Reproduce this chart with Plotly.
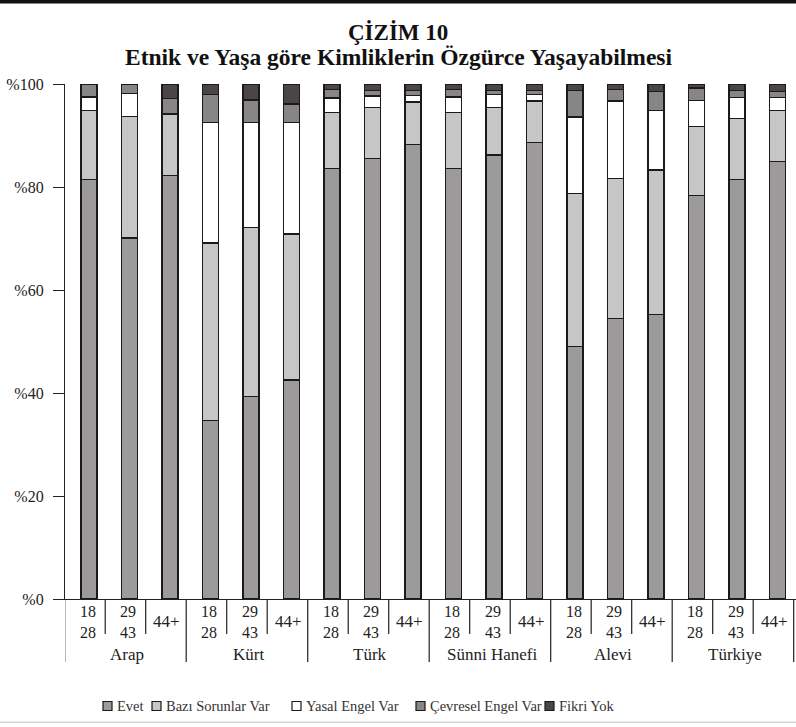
import plotly.graph_objects as go

groups = ["Arap", "Kürt", "Türk", "Sünni Hanefi", "Alevi", "Türkiye"]
ages = ["18<br>28", "29<br>43", "44+"]
series_names = ["Evet", "Bazı Sorunlar Var", "Yasal Engel Var", "Çevresel Engel Var", "Fikri Yok"]

evet =     [81.4, 70.1, 82.2, 34.6, 39.3, 42.5, 83.6, 85.6, 88.3, 83.6, 86.2, 88.7, 49.0, 54.4, 55.3, 78.3, 81.4, 85.0]
bazi =     [13.4, 23.6, 12.0, 34.5, 32.9, 28.4, 10.8,  9.8,  8.2, 10.8,  9.2,  8.0, 29.8, 27.2, 28.0, 13.4, 11.9,  9.8]
yasal =    [ 2.7,  4.4,  0.0, 23.4, 20.3, 21.6,  2.9,  2.3,  1.2,  3.1,  2.5,  1.2, 14.8, 15.1, 11.5,  5.1,  4.1,  2.6]
cevresel = [ 2.5,  1.9,  3.0,  5.4,  4.4,  3.6,  1.7,  1.1,  1.1,  1.5,  0.9,  0.9,  5.2,  2.3,  3.7,  2.4,  1.4,  1.1]
fikri =    [ 0.0,  0.0,  2.8,  2.1,  3.1,  3.9,  1.0,  1.2,  1.2,  1.0,  1.2,  1.2,  1.2,  1.0,  1.5,  0.8,  1.2,  1.5]

y_ticks = [0, 20, 40, 60, 80, 100]
y_tick_labels = ["%0", "%20", "%40", "%60", "%80", "%100"]

colors = ["#9c9a9a", "#c6c6c6", "#ffffff", "#878585", "#4b4545"]
series = [evet, bazi, yasal, cevresel, fikri]

W, H = 796, 727
L, R, T, B = 65, 0, 84, 128
PW = W - L - R
PH = H - T - B
FONT = "Liberation Serif"
TXT = "#222222"

def px(x):
    return (x - L) / PW

def py(y):
    return (H - B - y) / PH

n = len(groups) * len(ages)
xs = list(range(n))

fig = go.Figure()
for name, vals, col in zip(series_names, series, colors):
    fig.add_trace(go.Bar(
        x=xs, y=vals, name=name, width=0.4,
        marker=dict(color=col, line=dict(color="#1a1a1a", width=1.3)),
        showlegend=False,
    ))

shapes = []
annotations = []

# top thick rule and bottom light rule
shapes.append(dict(type="rect", xref="paper", yref="paper", x0=px(-2), x1=px(W + 2), y0=py(3.5), y1=py(-3),
                   fillcolor="#111111", line=dict(width=0), layer="above"))
shapes.append(dict(type="rect", xref="paper", yref="paper", x0=px(0), x1=px(W), y0=py(723), y1=py(721.5),
                   fillcolor="#d6d6d6", line=dict(width=0), layer="above"))

# category separators
for i in range(n + 1):
    xpos = i - 0.6
    is_group = (i % len(ages) == 0)
    y_end = py(662) if is_group else py(634)
    shapes.append(dict(type="line", xref="x", yref="paper", x0=xpos, x1=xpos, y0=0, y1=y_end,
                       line=dict(color="#222222", width=1.2)))

# age labels
for i in range(n):
    lab = ages[i % len(ages)]
    two = "<br>" in lab
    annotations.append(dict(x=i - (0.03 if two else 0.08), y=py(621.5), xref="x", yref="paper", text=lab,
                            showarrow=False, font=dict(family=FONT, size=16 if two else 17, color=TXT),
                            xanchor="center", yanchor="middle"))

# group labels
for g, name in enumerate(groups):
    center = g * len(ages) + 1 - 0.05
    annotations.append(dict(x=center, y=py(654), xref="x", yref="paper", text=name, showarrow=False,
                            font=dict(family=FONT, size=17, color=TXT), xanchor="center", yanchor="middle"))

# titles
annotations.append(dict(x=px(398), y=py(32), xref="paper", yref="paper", text="<b>ÇİZİM 10</b>", showarrow=False,
                        font=dict(family=FONT, size=23, color="#111111"), xanchor="center", yanchor="middle"))
annotations.append(dict(x=px(398), y=py(57.5), xref="paper", yref="paper",
                        text="<b>Etnik ve Yaşa göre Kimliklerin Özgürce Yaşayabilmesi</b>", showarrow=False,
                        font=dict(family=FONT, size=23.5, color="#111111"), xanchor="center", yanchor="middle"))

# legend (manual)
legend_sq_x = [103, 152, 292, 416, 545]
for name, col, sx in zip(series_names, colors, legend_sq_x):
    shapes.append(dict(type="rect", xref="paper", yref="paper", x0=px(sx), x1=px(sx + 9), y0=py(710.5), y1=py(701.5),
                       fillcolor=col, line=dict(color="#1a1a1a", width=1.2)))
    annotations.append(dict(x=px(sx + 11.5), y=py(706), xref="paper", yref="paper", text=name, showarrow=False,
                            font=dict(family=FONT, size=14.5, color="#333333"), xanchor="left", yanchor="middle"))

fig.update_layout(
    width=W, height=H,
    margin=dict(l=L, r=R, t=T, b=B),
    barmode="stack",
    paper_bgcolor="white", plot_bgcolor="white",
    shapes=shapes, annotations=annotations,
    showlegend=False,
    font=dict(family=FONT, size=15, color=TXT),
)
fig.update_xaxes(range=[-0.593, 17.457], showgrid=False, zeroline=False, showticklabels=False,
                 showline=True, linecolor="#222222", linewidth=1.2, ticks="")
fig.update_yaxes(range=[0, 100], tickvals=y_ticks, ticktext=y_tick_labels, showgrid=False, zeroline=False,
                 showline=True, linecolor="#222222", linewidth=1.2, ticks="outside", ticklen=11,
                 tickcolor="#222222", tickwidth=1.2, ticklabelstandoff=6,
                 tickfont=dict(family=FONT, size=16, color=TXT))

fig.write_html("out.html", config={"displayModeBar": False},
               post_script="document.body.style.margin='0';document.body.style.overflow='hidden';")
